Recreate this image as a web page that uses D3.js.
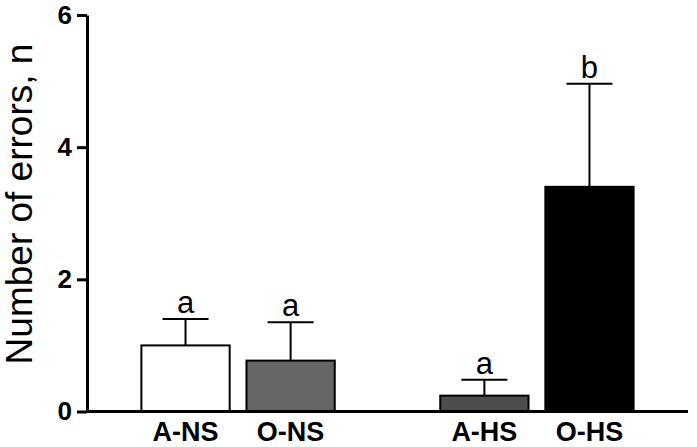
<!DOCTYPE html>
<html>
<head>
<meta charset="utf-8">
<script src="https://cdn.jsdelivr.net/npm/d3@7/dist/d3.min.js"></script>
<style>
  html, body { margin: 0; padding: 0; background: #fff; }
  svg { display: block; }
  text { font-family: "Liberation Sans", Arial, sans-serif; }
</style>
</head>
<body>
<svg id="chart" width="697" height="447"></svg>
<script>
// ---- data ----
const groups = ["NS", "HS"];
const subgroups = ["A", "O"];
const categories = ["A-NS", "O-NS", "A-HS", "O-HS"];
const means = [1.0, 0.77, 0.24, 3.4];
const errors = [0.4, 0.58, 0.24, 1.56];
const letters = ["a", "a", "a", "b"];
const fills = ["#ffffff", "#666666", "#4d4d4d", "#000000"];
const yTicks = [0, 2, 4, 6];
const yLabel = "Number of errors, n";

const rows = categories.map((c, i) => {
  const [sub, grp] = c.split("-");
  return { cat: c, sub, grp, mean: means[i], err: errors[i], letter: letters[i], fill: fills[i] };
});

const svg = d3.select("#chart");

const y = d3.scaleLinear().domain([0, 6]).range([411.5, 15]);
const x0 = d3.scaleBand().domain(groups).range([87, 688]).paddingInner(0.353).paddingOuter(0.182);
const x1 = d3.scaleBand().domain(subgroups).range([0, x0.bandwidth()]).paddingInner(0.16).paddingOuter(0);

const xPos = d => x0(d.grp) + x1(d.sub);
const xMid = d => xPos(d) + x1.bandwidth() / 2;

// bars
svg.append("g").selectAll("rect").data(rows).join("rect")
  .attr("x", d => xPos(d))
  .attr("y", d => y(d.mean))
  .attr("width", x1.bandwidth())
  .attr("height", d => y(0) - y(d.mean))
  .attr("fill", d => d.fill)
  .attr("stroke", "#000")
  .attr("stroke-width", 2);

// error bars
const capW = 46;
const eb = svg.append("g").attr("stroke", "#000").attr("stroke-width", 2);
eb.selectAll("line.v").data(rows).join("line").attr("class", "v")
  .attr("x1", xMid).attr("x2", xMid)
  .attr("y1", d => y(d.mean)).attr("y2", d => y(d.mean + d.err));
eb.selectAll("line.c").data(rows).join("line").attr("class", "c")
  .attr("x1", d => xMid(d) - capW / 2).attr("x2", d => xMid(d) + capW / 2)
  .attr("y1", d => y(d.mean + d.err)).attr("y2", d => y(d.mean + d.err));

// significance letters
svg.append("g").selectAll("text").data(rows).join("text")
  .attr("x", xMid)
  .attr("y", d => y(d.mean + d.err) - 6)
  .attr("text-anchor", "middle")
  .attr("font-size", 31)
  .attr("fill", "#000")
  .text(d => d.letter);

// y axis
const yAxis = d3.axisLeft(y).tickValues(yTicks).tickFormat(d3.format("d")).tickSize(10).tickSizeOuter(0).tickPadding(5);
const gy = svg.append("g").attr("transform", "translate(87,0)").call(yAxis);
gy.select(".domain").attr("stroke", "#000").attr("stroke-width", 3);
gy.selectAll(".tick line").attr("stroke", "#000").attr("stroke-width", 3);
gy.selectAll(".tick text")
  .attr("font-family", "'Liberation Sans', Arial, sans-serif")
  .attr("font-size", 26).attr("font-weight", "bold").attr("fill", "#000");

// x baseline
svg.append("line")
  .attr("x1", 86).attr("x2", 688)
  .attr("y1", y(0)).attr("y2", y(0))
  .attr("stroke", "#000").attr("stroke-width", 3);

// category labels
svg.append("g").selectAll("text").data(rows).join("text")
  .attr("x", xMid)
  .attr("y", 441)
  .attr("text-anchor", "middle")
  .attr("font-size", 27)
  .attr("font-weight", "bold")
  .attr("fill", "#000")
  .text(d => d.cat);

// y label
svg.append("text")
  .attr("transform", "translate(32,204) rotate(-90)")
  .attr("text-anchor", "middle")
  .attr("font-size", 37)
  .attr("fill", "#000")
  .text(yLabel);
</script>
</body>
</html>
